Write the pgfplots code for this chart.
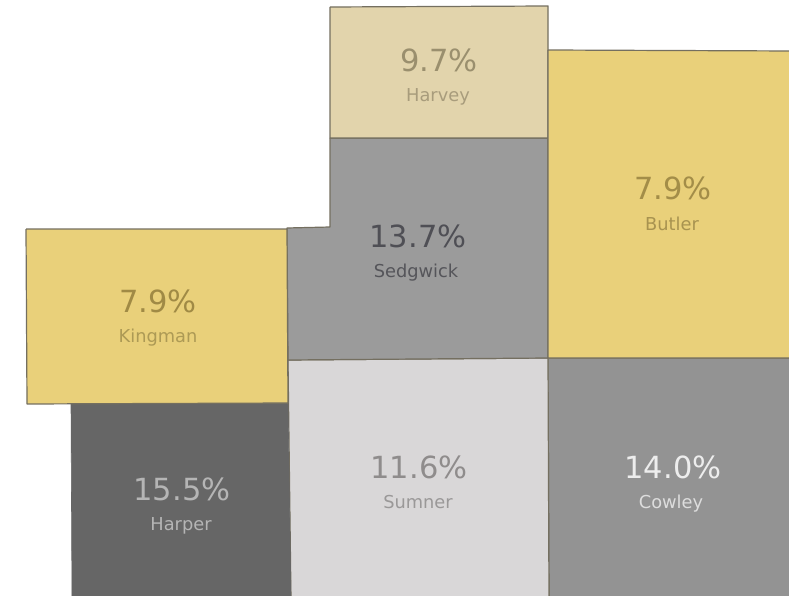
\documentclass[border=0pt]{standalone}
\usepackage{fontspec}
\setmainfont{DejaVu Sans}
\usepackage{pgfplots}
\pgfplotsset{compat=1.18}
\definecolor{bord}{HTML}{746F60}
\definecolor{gold}{HTML}{E9D07A}
\definecolor{sand}{HTML}{E2D4AC}
\definecolor{sedg}{HTML}{9B9B9B}
\definecolor{harp}{HTML}{666666}
\definecolor{sumn}{HTML}{D9D7D8}
\definecolor{cowl}{HTML}{939393}
\definecolor{tKv}{HTML}{A08A45}
\definecolor{tKn}{HTML}{AD9A55}
\definecolor{tHp}{HTML}{B5B5B5}
\definecolor{tHv}{HTML}{9A8F6E}
\definecolor{tHn}{HTML}{A89C7C}
\definecolor{tSv}{HTML}{4F4F55}
\definecolor{tSn}{HTML}{55555A}
\definecolor{tBv}{HTML}{A38D48}
\definecolor{tBn}{HTML}{A89350}
\definecolor{tUv}{HTML}{8F8C8C}
\definecolor{tUn}{HTML}{9A9898}
\definecolor{tCv}{HTML}{EDEDED}
\definecolor{tCn}{HTML}{DDDDDD}
\pgfplotsset{
  county/.style={draw=bord, line width=1.2pt, line join=round},
  val/.style={draw=none, mark=none, point meta=explicit symbolic, nodes near coords,
    every node near coord/.style={anchor=base, inner sep=0pt, text=#1,
      font=\fontsize{30.5}{31}\selectfont}},
  nam/.style={draw=none, mark=none, point meta=explicit symbolic, nodes near coords,
    every node near coord/.style={anchor=base, inner sep=0pt, text=#1,
      font=\fontsize{17.8}{18}\selectfont}},
}
\begin{document}
\begin{tikzpicture}
\begin{axis}[
  name=ax,
  scale only axis, width=789pt, height=596pt,
  xmin=0, xmax=789, ymin=0, ymax=596, y dir=reverse,
  hide axis, clip=true,
]
% Cowley
\addplot[county, fill=cowl] coordinates {(548,358) (793,358) (793,600) (549,600) (548,358)};
% Sumner
\addplot[county, fill=sumn] coordinates {(288,360) (548,358) (549,600) (291,600) (288,360)};
% Harper
\addplot[draw=harp, line width=0.6pt, fill=harp] coordinates {(71,404) (288,403) (291,600) (72,600) (71,404)};
% Sedgwick
\addplot[county, fill=sedg] coordinates {(330,138) (548,138) (548,358) (288,360) (287,228) (330,227) (330,138)};
% Harvey
\addplot[county, fill=sand] coordinates {(330,7) (548,6) (548,138) (330,138) (330,7)};
% Butler
\addplot[county, fill=gold] coordinates {(548,50) (793,51) (793,358) (548,358) (548,50)};
% Kingman
\addplot[county, fill=gold] coordinates {(26,229) (287,229) (288,403) (27,404) (26,229)};
% Labels
\addplot[val=tKv] coordinates {(158,312) [7.9\%]};
\addplot[nam=tKn] coordinates {(158,342) [Kingman]};
\addplot[val=tHp] coordinates {(182,500) [15.5\%]};
\addplot[nam=tHp] coordinates {(181,530) [Harper]};
\addplot[val=tHv] coordinates {(439,72) [9.7\%]};
\addplot[nam=tHn] coordinates {(438,102) [Harvey]};
\addplot[val=tSv] coordinates {(418,247) [13.7\%]};
\addplot[nam=tSn] coordinates {(416,277) [Sedgwick]};
\addplot[val=tBv] coordinates {(673,200) [7.9\%]};
\addplot[nam=tBn] coordinates {(672,230) [Butler]};
\addplot[val=tUv] coordinates {(419,478) [11.6\%]};
\addplot[nam=tUn] coordinates {(418,508) [Sumner]};
\addplot[val=tCv] coordinates {(673,478) [14.0\%]};
\addplot[nam=tCn] coordinates {(671,508) [Cowley]};
\end{axis}
\path[use as bounding box] (ax.south west) rectangle (ax.north east);
\end{tikzpicture}
\end{document}
